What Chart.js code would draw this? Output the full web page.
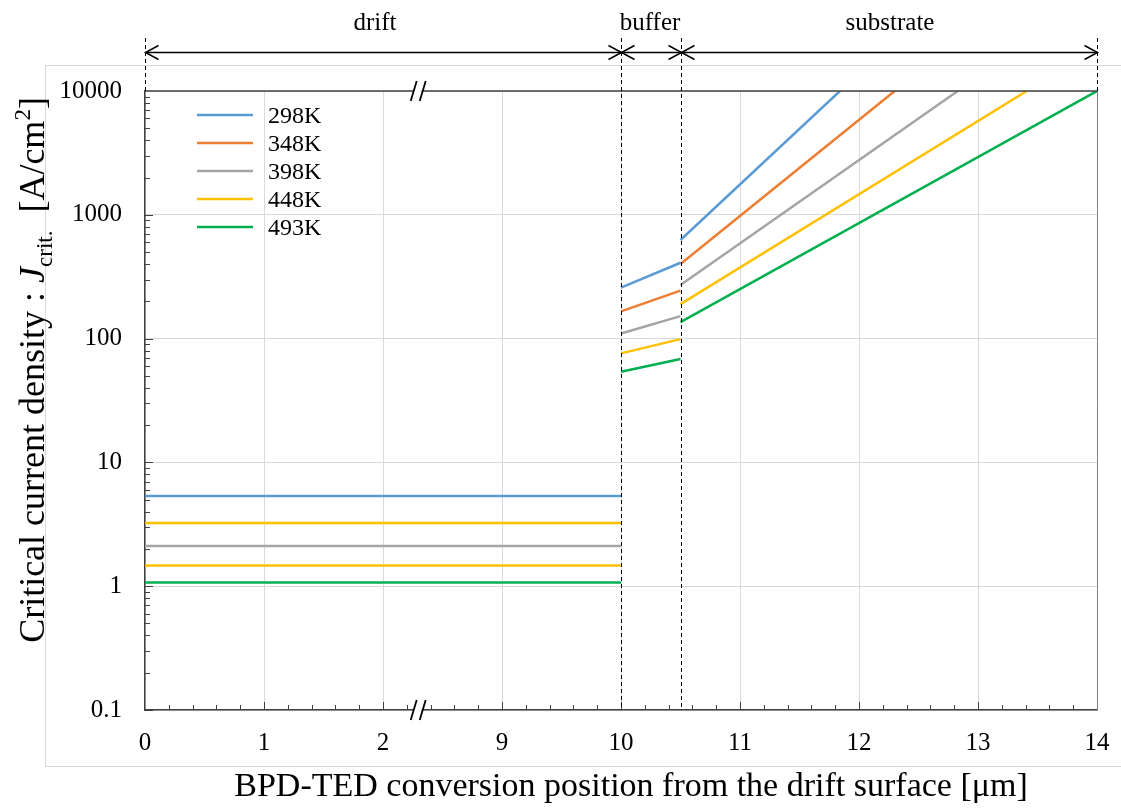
<!DOCTYPE html>
<html>
<head>
<meta charset="utf-8">
<script src="https://cdn.jsdelivr.net/npm/chart.js@4.4.1/dist/chart.umd.min.js"></script>
<style>
  html, body { margin: 0; padding: 0; background: #fff; }
  #wrap { width: 1121px; height: 810px; }
</style>
</head>
<body>
<div id="wrap"><canvas id="jcChart" width="1121" height="810"></canvas></div>
<script>
// temperatures and line colours
const temps = ['298K', '348K', '398K', '448K', '493K'];
const lineColors = ['#5B9BD5', '#ED7D31', '#A5A5A5', '#FFC000', '#00B050'];
const driftColors = ['#5B9BD5', '#FFC000', '#A5A5A5', '#FFC000', '#00B050'];

// layer boundaries [um]
const driftStart = 0, driftEnd = 10, bufferEnd = 10.5, substrateEnd = 14;

// critical current density [A/cm2]
const jDrift = [5.36, 3.24, 2.11, 1.47, 1.07];
const jBufferIn = [258, 166, 110, 76, 54];       // at 10 um
const jBufferOut = [410, 244, 152, 99, 68.4];    // at 10.5 um
const jSubstrateIn = [626, 401, 271, 190, 136];  // at 10.5 um
const jTop = 10000;
const xAtTop = [11.84, 12.30, 12.83, 13.41, 14.0]; // where each line reaches 10000

const xTickLabels = ['0', '1', '2', '9', '10', '11', '12', '13', '14'];
const yTickLabels = ['0.1', '1', '10', '100', '1000', '10000'];

// axis is broken between 2.3 and 8.3 um
const breakAt = 2.3, breakGap = 6;
function axisPos(um) { return um <= breakAt ? um : um - breakGap; }

const SERIF = '"Liberation Serif", "Times New Roman", serif';
const X_TITLE = 'BPD-TED conversion position from the drift surface [\u03bcm]';

const datasets = temps.map((t, i) => ({
  label: t,
  data: [
    { x: axisPos(driftStart), y: jDrift[i] }, { x: axisPos(driftEnd), y: jDrift[i] },
    { x: axisPos(driftEnd), y: null },
    { x: axisPos(driftEnd), y: jBufferIn[i] }, { x: axisPos(bufferEnd), y: jBufferOut[i] },
    { x: axisPos(bufferEnd), y: null },
    { x: axisPos(bufferEnd), y: jSubstrateIn[i] }, { x: axisPos(xAtTop[i]), y: jTop }
  ],
  borderColor: lineColors[i],
  borderWidth: 2.5,
  pointRadius: 0,
  spanGaps: false,
  segment: { borderColor: ctx => ctx.p0DataIndex === 0 ? driftColors[i] : lineColors[i] }
}));

function isDecade(v) {
  const l = Math.log10(v);
  return Math.abs(l - Math.round(l)) < 1e-6;
}

function line(ctx, x1, y1, x2, y2) {
  ctx.beginPath(); ctx.moveTo(x1, y1); ctx.lineTo(x2, y2); ctx.stroke();
}

function arrowHead(ctx, x, y, dir) {
  ctx.beginPath();
  ctx.moveTo(x - dir * 13, y - 7);
  ctx.lineTo(x, y);
  ctx.lineTo(x - dir * 13, y + 7);
  ctx.stroke();
}

// outer frame, layer arrows, dashed boundaries, minor ticks, axis break, legend, titles
const decor = {
  id: 'decor',
  beforeDraw(chart) {
    const ctx = chart.ctx;
    ctx.save();
    ctx.strokeStyle = '#D9D9D9';
    ctx.lineWidth = 1;
    ctx.strokeRect(45.5, 65.5, 1080, 701);
    ctx.restore();
  },
  afterDatasetsDraw(chart) {
    const ctx = chart.ctx;
    const xs = chart.scales.x, ys = chart.scales.y;
    const { left, right, top, bottom } = chart.chartArea;
    ctx.save();

    // plot frame
    ctx.strokeStyle = '#404040';
    ctx.lineWidth = 1.5;
    line(ctx, left, top, right, top);
    ctx.strokeStyle = '#808080';
    ctx.lineWidth = 1;
    line(ctx, right + 0.5, top, right + 0.5, bottom);

    // minor ticks on x (every 0.2) pointing inward
    ctx.strokeStyle = '#404040';
    ctx.lineWidth = 1;
    for (let k = 1; k < 40; k++) {
      const v = k / 5;
      const px = Math.round(xs.getPixelForValue(v)) + 0.5;
      const len = k % 5 === 0 ? 8 : 5;
      line(ctx, px, bottom, px, bottom - len);
    }
    // minor ticks on y (log) pointing inward
    for (let e = -1; e < 4; e++) {
      for (let m = 1; m <= 9; m++) {
        const v = m * Math.pow(10, e);
        const py = Math.round(ys.getPixelForValue(v)) + 0.5;
        const len = m === 1 ? 8 : 5;
        line(ctx, left, py, left + len, py);
      }
    }

    // dashed layer boundaries
    const bx = [driftStart, driftEnd, bufferEnd, substrateEnd].map(v => Math.round(xs.getPixelForValue(axisPos(v))) + 0.5);
    ctx.strokeStyle = '#000';
    ctx.setLineDash([4, 3]);
    bx.forEach((x, k) => {
      const yEnd = (k === 0 || k === 3) ? top : bottom;
      line(ctx, x, 38, x, yEnd);
    });
    ctx.setLineDash([]);

    // layer arrows
    const ay = 52.5;
    ctx.lineWidth = 1.5;
    for (let k = 0; k < 3; k++) {
      const x1 = bx[k], x2 = bx[k + 1];
      line(ctx, x1, ay, x2, ay);
      arrowHead(ctx, x1, ay, -1);
      arrowHead(ctx, x2, ay, 1);
    }
    ctx.fillStyle = '#000';
    ctx.font = '25px ' + SERIF;
    ctx.textAlign = 'center';
    ctx.textBaseline = 'alphabetic';
    const names = ['drift', 'buffer', 'substrate'];
    const nameX = [375, 650, 890];
    names.forEach((n, k) => ctx.fillText(n, nameX[k], 30));

    // axis break marks
    const brx = xs.getPixelForValue(breakAt);
    [top, bottom].forEach(y => {
      ctx.fillStyle = '#fff';
      ctx.beginPath();
      ctx.moveTo(brx - 8, y + 10); ctx.lineTo(brx - 2, y - 10);
      ctx.lineTo(brx + 6, y - 10); ctx.lineTo(brx, y + 10);
      ctx.closePath(); ctx.fill();
      ctx.strokeStyle = '#000';
      ctx.lineWidth = 1.8;
      line(ctx, brx - 8, y + 10, brx - 2, y - 10);
      line(ctx, brx + 1, y + 10, brx + 7, y - 10);
    });

    // legend
    ctx.font = '24px ' + SERIF;
    ctx.textAlign = 'left';
    ctx.textBaseline = 'middle';
    temps.forEach((t, i) => {
      const y = 115 + i * 28;
      ctx.strokeStyle = lineColors[i];
      ctx.lineWidth = 2.5;
      line(ctx, 197, y, 253, y);
      ctx.fillStyle = '#000';
      ctx.fillText(t, 268, y + 2);
    });

    // x axis title
    ctx.font = '34px ' + SERIF;
    ctx.textAlign = 'center';
    ctx.textBaseline = 'alphabetic';
    ctx.fillText(X_TITLE, 631, 796);

    // y axis title with italic symbol, subscript and superscript
    ctx.translate(44, 370);
    ctx.rotate(-Math.PI / 2);
    const parts = [
      { t: 'Critical current density : ', f: '36px ' + SERIF, dy: 0 },
      { t: 'J', f: 'italic 36px ' + SERIF, dy: 0 },
      { t: 'crit.', f: '23px ' + SERIF, dy: 8 },
      { t: '  [A/cm', f: '36px ' + SERIF, dy: 0 },
      { t: '2', f: '23px ' + SERIF, dy: -14 },
      { t: ']', f: '36px ' + SERIF, dy: 0 }
    ];
    let total = 0;
    parts.forEach(p => { ctx.font = p.f; p.w = ctx.measureText(p.t).width; total += p.w; });
    let cx = -total / 2;
    ctx.textAlign = 'left';
    parts.forEach(p => { ctx.font = p.f; ctx.fillText(p.t, cx, p.dy); cx += p.w; });
    ctx.restore();
  }
};

new Chart(document.getElementById('jcChart').getContext('2d'), {
  type: 'line',
  data: { datasets },
  options: {
    responsive: false,
    animation: false,
    devicePixelRatio: 1,
    layout: { padding: { left: 0, top: 91, right: 24, bottom: 0 } },
    plugins: { legend: { display: false }, tooltip: { enabled: false } },
    scales: {
      x: {
        type: 'linear',
        min: 0, max: 8,
        afterFit: s => { s.height = 100; s.paddingLeft = 0; s.paddingRight = 0; },
        ticks: {
          stepSize: 1,
          autoSkip: false,
          maxRotation: 0,
          padding: 18,
          color: '#000',
          font: { family: SERIF, size: 25 },
          callback: v => xTickLabels[v]
        },
        grid: { color: '#D9D9D9', drawTicks: false },
        border: { color: '#404040', width: 1.5 }
      },
      y: {
        type: 'logarithmic',
        min: 0.1, max: 10000,
        afterFit: s => { s.width = 145; s.paddingTop = 0; s.paddingBottom = 0; },
        afterBuildTicks: s => { s.ticks = yTickLabels.map(v => ({ value: Number(v) })); },
        ticks: {
          autoSkip: false,
          padding: 23,
          color: '#000',
          font: { family: SERIF, size: 25 },
          callback: v => isDecade(v) ? yTickLabels[Math.round(Math.log10(v)) + 1] : ''
        },
        grid: { color: '#D9D9D9', drawTicks: false },
        border: { color: '#404040', width: 1.5 }
      }
    }
  },
  plugins: [decor]
});
</script>
</body>
</html>
